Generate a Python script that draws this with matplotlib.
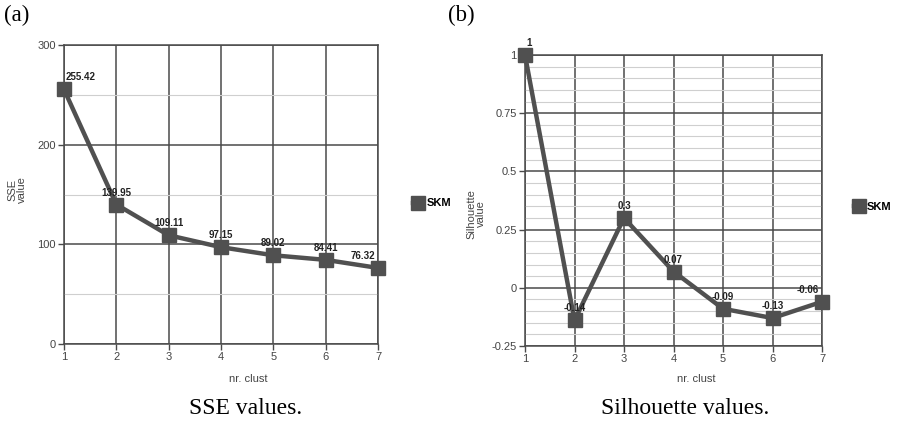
import matplotlib.pyplot as plt
from matplotlib.ticker import MultipleLocator

plt.rcParams['font.family'] = ['Liberation Sans', 'DejaVu Sans']

clusters = [1, 2, 3, 4, 5, 6, 7]
sse = [255.42, 139.95, 109.11, 97.15, 89.02, 84.41, 76.32]
sil = [1, -0.14, 0.3, 0.07, -0.09, -0.13, -0.06]
sse_labels = ['255.42', '139.95', '109.11', '97.15', '89.02', '84.41', '76.32']
sil_labels = ['1', '-0.14', '0.3', '0.07', '-0.09', '-0.13', '-0.06']

W, H = 897, 422
fig = plt.figure(figsize=(W / 100, H / 100), dpi=100)

line_c = '#505050'
grid_c = '#4a4a4a'
tick_c = '#444444'


def box(l, t, r, b):
    return [l / W, 1 - b / H, (r - l) / W, (b - t) / H]


def panel(ax, y, labels, ylim, major, minor):
    ax.plot(clusters, y, color=line_c, lw=3.2, marker='s', ms=9.5,
            mfc=line_c, mec=line_c, label='SKM', clip_on=False, zorder=5)
    ax.set_xlim(1, 7)
    ax.set_ylim(*ylim)
    ax.set_xticks(clusters)
    ax.yaxis.set_major_locator(MultipleLocator(major))
    ax.yaxis.set_minor_locator(MultipleLocator(minor))
    ax.grid(which='major', color=grid_c, lw=1.1)
    ax.grid(which='minor', axis='y', color='#cfcfcf', lw=0.8)
    ax.tick_params(which='minor', length=0)
    ax.tick_params(which='major', length=4, width=1, color=grid_c,
                   labelsize=8, labelcolor=tick_c, pad=2)
    for s in ax.spines.values():
        s.set_color(grid_c)
        s.set_linewidth(1.1)
    ax.set_axisbelow(True)
    n = len(clusters)
    for i, (x, v, t) in enumerate(zip(clusters, y, labels)):
        ha = 'left' if i == 0 else ('right' if i == n - 1 else 'center')
        dx = 1 if i == 0 else (-2 if i == n - 1 else 0)
        ax.annotate(t, (x, v), xytext=(dx, 5), textcoords='offset points',
                    ha=ha, va='bottom', fontsize=7, fontweight='bold',
                    color='#222222', zorder=6)


ax1 = fig.add_axes(box(64, 45, 378, 344))
panel(ax1, sse, sse_labels, (0, 300), 100, 50)
ax1.legend(loc='center left', bbox_to_anchor=(1.08, 0.47), frameon=False,
           handlelength=0.9, handletextpad=0.3,
           prop={'weight': 'bold', 'size': 8})

ax2 = fig.add_axes(box(525, 55, 822, 346))
panel(ax2, sil, sil_labels, (-0.25, 1), 0.25, 0.05)
ax2.set_yticks([-0.25, 0, 0.25, 0.5, 0.75, 1])
ax2.set_yticklabels(['-0.25', '0', '0.25', '0.5', '0.75', '1'])
ax2.legend(loc='center left', bbox_to_anchor=(1.075, 0.478), frameon=False,
           handlelength=0.9, handletextpad=0.25,
           prop={'weight': 'bold', 'size': 8})

# axis titles
fig.text(17 / W, 1 - 190 / H, 'SSE\nvalue', rotation=90, ha='center',
         va='center', fontsize=8, color=tick_c, linespacing=1.0)
fig.text(476 / W, 1 - 214 / H, 'Silhouette\nvalue', rotation=90,
         ha='center', va='center', fontsize=8, color=tick_c,
         linespacing=1.0)
fig.text(248 / W, 1 - 379 / H, 'nr. clust', ha='center', va='center',
         fontsize=8, color=tick_c)
fig.text(696 / W, 1 - 379 / H, 'nr. clust', ha='center', va='center',
         fontsize=8, color=tick_c)

# panel tags and captions
serif = ['Liberation Serif', 'DejaVu Serif']
fig.text(4 / W, 1 - 15 / H, '(a)', ha='left', va='center', fontsize=16.5,
         family=serif)
fig.text(448 / W, 1 - 15 / H, '(b)', ha='left', va='center', fontsize=16.5,
         family=serif)
fig.text(246 / W, 1 - 408 / H, 'SSE values.', ha='center', va='center',
         fontsize=17, family=serif)
fig.text(685 / W, 1 - 408 / H, 'Silhouette values.', ha='center',
         va='center', fontsize=17, family=serif)

fig.savefig('out.png', dpi=100)
